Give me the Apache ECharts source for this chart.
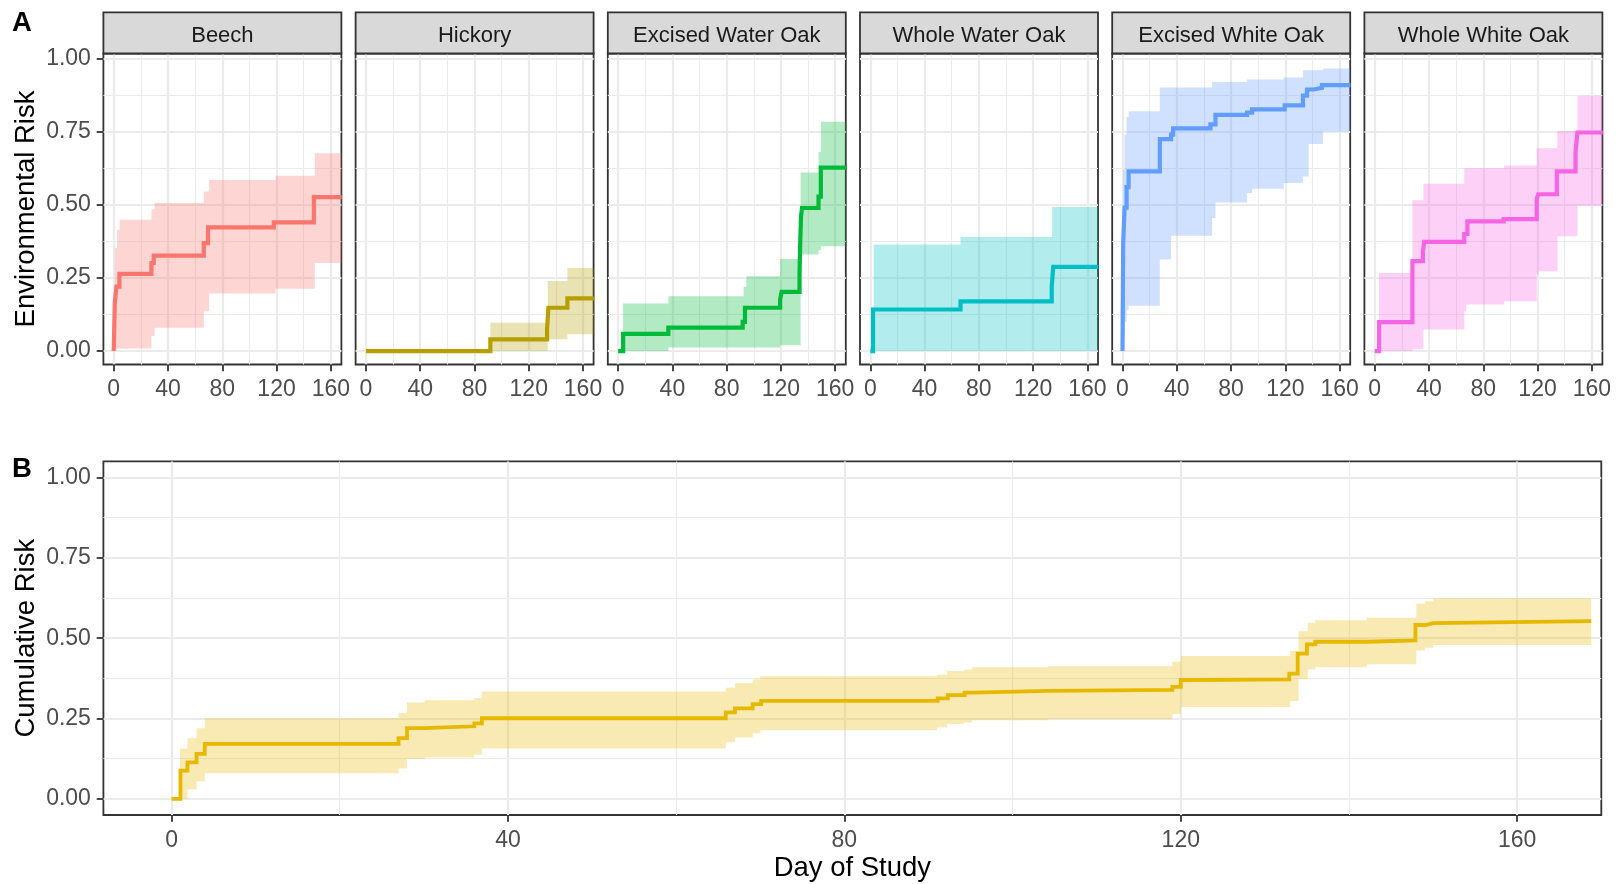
<!DOCTYPE html>
<html><head><meta charset="utf-8">
<script src="https://cdn.jsdelivr.net/npm/echarts@6.0.0/dist/echarts.min.js"></script>
<style>html,body{margin:0;padding:0;background:#fff}#chart{width:1622px;height:884px}</style>
</head><body><div id="chart"></div>
<script>
// ---------------- DATA ----------------
const panelNames = ['Beech', 'Hickory', 'Excised Water Oak', 'Whole Water Oak', 'Excised White Oak', 'Whole White Oak'];

const beechT  = [0, 0.8, 2, 4.2, 27.8, 29.5, 66.4, 69.5, 118, 147.5, 168];
const beechS  = [0, 0.165, 0.22, 0.264, 0.301, 0.326, 0.369, 0.423, 0.44, 0.526, 0.526];
const beechRT = [0.8, 2.5, 4.4, 27.8, 30.2, 66.4, 70.3, 119.4, 148.2, 168];
const beechLo = [0.005, 0.009, 0.009, 0.051, 0.08, 0.136, 0.197, 0.213, 0.301, 0.301];
const beechHi = [0.352, 0.415, 0.449, 0.485, 0.506, 0.545, 0.585, 0.599, 0.676, 0.676];

const hickT  = [0, 91.7, 133.5, 134.5, 148.5, 168];
const hickS  = [0, 0.04, 0.075, 0.148, 0.18, 0.18];
const hickRT = [91.7, 134, 148.5, 168];
const hickLo = [0, 0.04, 0.057, 0.057];
const hickHi = [0.097, 0.239, 0.284, 0.284];

const ewoT  = [0, 3.7, 37, 91.8, 93.5, 119.4, 120.5, 133.7, 134.2, 134.8, 135.5, 147.7, 149.4, 168];
const ewoS  = [0, 0.059, 0.08, 0.10, 0.148, 0.176, 0.202, 0.26, 0.37, 0.46, 0.489, 0.528, 0.627, 0.627];
const ewoRT = [3.7, 37, 92.5, 94.5, 119.4, 134.5, 147.7, 149.5, 168];
const ewoLo = [0, 0.012, 0.012, 0.012, 0.02, 0.33, 0.345, 0.358, 0.358];
const ewoHi = [0.1625, 0.1875, 0.22, 0.256, 0.315, 0.61, 0.68, 0.784, 0.784];

const wwoT  = [0, 2, 66.5, 133.7, 134.8, 168];
const wwoS  = [0, 0.142, 0.17, 0.22, 0.2875, 0.2875];
const wwoRT = [2.5, 66.5, 134, 168];
const wwoLo = [0, 0, 0, 0];
const wwoHi = [0.364, 0.39, 0.492, 0.492];

const exwT  = [0, 0.5, 1.5, 3, 4.5, 27.5, 35.8, 37.3, 64.8, 68.5, 91.8, 95.5, 119.5, 133, 136, 141, 147, 168];
const exwS  = [0, 0.37, 0.49, 0.56, 0.614, 0.724, 0.74, 0.761, 0.775, 0.807, 0.815, 0.826, 0.84, 0.873, 0.894, 0.9, 0.909, 0.909];
const exwRT = [0.5, 1.5, 3, 4.5, 27.5, 35.8, 66, 68.5, 91.8, 95.5, 118.8, 133, 137.2, 147.7, 168];
const exwLo = [0.05, 0.1, 0.14, 0.155, 0.3125, 0.394, 0.455, 0.508, 0.54, 0.555, 0.574, 0.597, 0.708, 0.75, 0.75];
const exwHi = [0.62, 0.74, 0.8, 0.82, 0.901, 0.901, 0.92, 0.92, 0.928, 0.928, 0.935, 0.96, 0.96, 0.966, 0.966];

const wwhT  = [0, 3.2, 27.8, 35.5, 36.5, 66, 68.3, 95, 119.4, 120.5, 134.2, 148, 149.4, 168];
const wwhS  = [0, 0.099, 0.307, 0.34, 0.373, 0.40, 0.443, 0.451, 0.52, 0.536, 0.614, 0.68, 0.747, 0.747];
const wwhRT = [3.2, 27.8, 35.9, 66, 67.5, 95.4, 119.4, 120.5, 134.7, 149.4, 168];
const wwhLo = [0, 0.006, 0.074, 0.136, 0.159, 0.17, 0.26, 0.273, 0.392, 0.497, 0.497];
const wwhHi = [0.267, 0.515, 0.572, 0.625, 0.625, 0.634, 0.693, 0.693, 0.752, 0.873, 0.873];

const totT  = [0, 1.06, 1.9, 2.97, 3.95, 27.0, 28.0, 30.1, 36.0, 36.9, 65.9, 67.0, 69.1, 70.1, 91.1, 92.3, 94.3, 95.4, 104.2, 119.0, 120.0, 121.0, 132.9, 133.9, 135.0, 136.0, 142.1, 147.9, 149.1, 150.0, 168.8];
const totS  = [0, 0.088, 0.114, 0.140, 0.171, 0.189, 0.220, 0.226, 0.235, 0.251, 0.269, 0.282, 0.295, 0.305, 0.313, 0.323, 0.331, 0.336, 0.339, 0.3485, 0.370, 0.372, 0.39, 0.452, 0.481, 0.489, 0.493, 0.541, 0.547, 0.553, 0.553];
const totRT = [1.0, 1.9, 2.97, 3.95, 27.0, 28.0, 30.1, 36.0, 36.9, 65.9, 67.0, 69.1, 70.0, 91.0, 92.2, 94.2, 95.2, 104.2, 119.0, 120.0, 133.0, 134.0, 135.1, 136.0, 142.1, 148.0, 149.0, 150.0, 168.8];
const totLo = [0.0, 0.029, 0.054, 0.08, 0.095, 0.124, 0.129, 0.1375, 0.157, 0.176, 0.191, 0.204, 0.214, 0.222, 0.233, 0.238, 0.245, 0.248, 0.264, 0.286, 0.305, 0.372, 0.403, 0.41, 0.419, 0.462, 0.47, 0.479, 0.479];
const totHi = [0.157, 0.189, 0.22, 0.251, 0.267, 0.30, 0.307, 0.313, 0.334, 0.346, 0.36, 0.372, 0.382, 0.386, 0.398, 0.403, 0.41, 0.413, 0.427, 0.445, 0.46, 0.522, 0.548, 0.556, 0.564, 0.607, 0.615, 0.624, 0.624];

const xTicks = [0, 40, 80, 120, 160];
const xMinorTicks = [20, 60, 100, 140];
const yTicks = [0, 0.25, 0.5, 0.75, 1];
const yMinorTicks = [0.125, 0.375, 0.625, 0.875];

// ---------------- STYLE / LAYOUT ----------------
const panelColors = ['#F8766D', '#B79F00', '#00BA38', '#00BFC4', '#619CFF', '#F564E3'];
const totalColor = '#E7B800';
const FONT = '"Liberation Sans", Arial, sans-serif';
const A = { left0: 103.4, step: 252.2, width: 238, stripTop: 12.4, plotTop: 53.5, plotBottom: 364.5 };
const Bl = { left: 103.4, top: 461.4, right: 1601.3, bottom: 815 };
const xRangeA = [-7.6, 167.8], yRangeA = [-0.046, 1.017];
const xRangeB = [-8.1, 170.0], yRangeB = [-0.05, 1.05];

const panels = [
  [beechT, beechS, beechRT, beechLo, beechHi],
  [hickT, hickS, hickRT, hickLo, hickHi],
  [ewoT, ewoS, ewoRT, ewoLo, ewoHi],
  [wwoT, wwoS, wwoRT, wwoLo, wwoHi],
  [exwT, exwS, exwRT, exwLo, exwHi],
  [wwhT, wwhS, wwhRT, wwhLo, wwhHi]
];

const grids = [], xAxes = [], yAxes = [], series = [], graphics = [];
const pairs = (t, v) => t.map((x, i) => [x, v[i]]);
const labelStyle = { color: '#4D4D4D', fontSize: 23, fontFamily: FONT };
const titleStyle = { color: '#000000', fontSize: 27.5, fontFamily: FONT };

// Step ribbon drawn as one polygon, every vertex placed by the axes (api.coord)
function ribbonRenderer(color) {
  return function (params, api) {
    if (params.dataIndexInside !== 0) return null;
    const n = params.dataInsideLength;
    const cs = params.coordSys;
    const x0 = cs.x, x1 = cs.x + cs.width;
    const clampX = p => [Math.max(x0, Math.min(x1, p[0])), p[1]];
    const up = [], dn = [];
    for (let i = 0; i < n; i++) {
      const t0 = api.value(0, i), l = api.value(1, i), h = api.value(2, i);
      const t1 = i < n - 1 ? api.value(0, i + 1) : t0;
      up.push(clampX(api.coord([t0, h])), clampX(api.coord([t1, h])));
      dn.push(clampX(api.coord([t0, l])), clampX(api.coord([t1, l])));
    }
    return { type: 'polygon', shape: { points: up.concat(dn.reverse()) },
      style: { fill: color, opacity: 0.3, stroke: null } };
  };
}

function addPanel(cfg) {
  const gi = grids.length;
  grids.push({ left: cfg.left, top: cfg.top, width: cfg.width, height: cfg.height, show: true,
    backgroundColor: '#ffffff', borderColor: '#333333', borderWidth: 1.8, containLabel: false, outerBoundsMode: 'none' });
  const base = { type: 'value', gridIndex: gi, axisLine: { show: false, onZero: false } };
  xAxes.push(Object.assign({}, base, {
    min: cfg.xr[0], max: cfg.xr[1], position: 'bottom',
    axisTick: { show: true, customValues: xTicks, length: 6.7, lineStyle: { color: '#333333', width: 1.8 } },
    axisLabel: Object.assign({ show: true, customValues: xTicks, margin: 14 }, labelStyle),
    splitLine: { show: true, lineStyle: { color: '#EBEBEB', width: 2.2 } },
    name: cfg.xName || '', nameLocation: 'middle', nameGap: 39, nameMoveOverlap: false, nameTextStyle: titleStyle
  }));
  xAxes.push(Object.assign({}, base, {
    min: cfg.xr[0], max: cfg.xr[1], position: 'bottom',
    axisTick: { show: false, customValues: xMinorTicks },
    axisLabel: { show: false, customValues: xMinorTicks },
    splitLine: { show: true, lineStyle: { color: '#EBEBEB', width: 1.1 } }
  }));
  yAxes.push(Object.assign({}, base, {
    min: cfg.yr[0], max: cfg.yr[1], position: 'left',
    axisTick: { show: cfg.showY, customValues: yTicks, length: 6.7, lineStyle: { color: '#333333', width: 1.8 } },
    axisLabel: Object.assign({ show: cfg.showY, customValues: yTicks, margin: 12.5, formatter: v => Number(v).toFixed(2) }, labelStyle),
    splitLine: { show: true, lineStyle: { color: '#EBEBEB', width: 2.2 } },
    name: cfg.yName || '', nameLocation: 'middle', nameGap: 62.5, nameMoveOverlap: false, nameTextStyle: titleStyle
  }));
  yAxes.push(Object.assign({}, base, {
    min: cfg.yr[0], max: cfg.yr[1], position: 'left',
    axisTick: { show: false, customValues: yMinorTicks },
    axisLabel: { show: false, customValues: yMinorTicks },
    splitLine: { show: true, lineStyle: { color: '#EBEBEB', width: 1.1 } }
  }));
  const xi = 2 * gi, yi = 2 * gi;
  const [t, s, rt, lo, hi] = cfg.data;
  series.push({ type: 'custom', xAxisIndex: xi, yAxisIndex: yi, silent: true, animation: false,
    data: rt.map((v, i) => [v, lo[i], hi[i]]), encode: { x: 0, y: [1, 2] },
    renderItem: ribbonRenderer(cfg.color), z: 2 });
  series.push({ type: 'line', xAxisIndex: xi, yAxisIndex: yi, step: 'end', symbol: 'none', silent: true,
    animation: false, emphasis: { disabled: true }, data: pairs(t, s),
    lineStyle: { color: cfg.color, width: cfg.lw, cap: 'butt', join: 'miter' }, z: 3 });
}

panels.forEach((d, i) => {
  const left = A.left0 + i * A.step;
  addPanel({ left: left, top: A.plotTop, width: A.width, height: A.plotBottom - A.plotTop,
    xr: xRangeA, yr: yRangeA, showY: i === 0, yName: i === 0 ? 'Environmental Risk' : '',
    data: d, color: panelColors[i], lw: 4.2 });
  graphics.push({ type: 'rect', shape: { x: left, y: A.stripTop, width: A.width, height: A.plotTop - A.stripTop },
    style: { fill: '#D9D9D9', stroke: '#333333', lineWidth: 1.8 }, z: 10 });
  graphics.push({ type: 'text', x: left + A.width / 2, y: (A.stripTop + A.plotTop) / 2 + 2.5,
    style: { text: panelNames[i], fill: '#1A1A1A', fontSize: 22, fontFamily: FONT, align: 'center', verticalAlign: 'middle' }, z: 11 });
});

addPanel({ left: Bl.left, top: Bl.top, width: Bl.right - Bl.left, height: Bl.bottom - Bl.top,
  xr: xRangeB, yr: yRangeB, showY: true, yName: 'Cumulative Risk', xName: 'Day of Study',
  data: [totT, totS, totRT, totLo, totHi], color: totalColor, lw: 3.8 });

graphics.push({ type: 'text', x: 12, y: 9, style: { text: 'A', fill: '#000', fontSize: 27.5, fontWeight: 'bold', fontFamily: FONT, align: 'left', verticalAlign: 'top' }, z: 11 });
graphics.push({ type: 'text', x: 12, y: 455, style: { text: 'B', fill: '#000', fontSize: 27.5, fontWeight: 'bold', fontFamily: FONT, align: 'left', verticalAlign: 'top' }, z: 11 });

const chart = echarts.init(document.getElementById('chart'), null, { renderer: 'canvas' });
chart.setOption({
  animation: false,
  backgroundColor: '#ffffff',
  grid: grids, xAxis: xAxes, yAxis: yAxes, series: series, graphic: graphics
});
</script>
</body></html>
